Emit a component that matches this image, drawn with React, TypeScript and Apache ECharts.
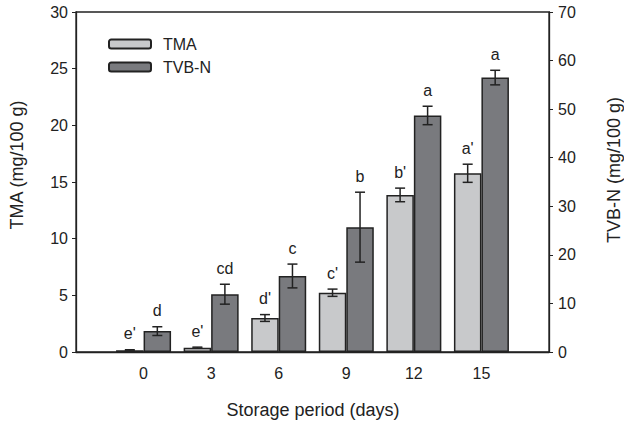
import React, { useEffect, useRef } from "react";
import * as echarts from "echarts";

const days = [0, 3, 6, 9, 12, 15];
const tma = [0.15, 0.38, 3.0, 5.23, 13.86, 15.77];
const tmaErr = [0.05, 0.05, 0.3, 0.32, 0.6, 0.8];
const tvbn = [4.3, 11.9, 15.65, 25.7, 48.7, 56.5];
const tvbnErr = [0.9, 2.05, 2.45, 7.2, 1.9, 1.5];
const tmaLetters = ["e'", "e'", "d'", "c'", "b'", "a'"];
const tvbnLetters = ["d", "cd", "c", "b", "a", "a"];
const leftTicks = [0, 5, 10, 15, 20, 25, 30];
const rightTicks = [0, 10, 20, 30, 40, 50, 60, 70];

const FONT = "'Liberation Sans', Arial, sans-serif";
const INK = "#222";
const BAR_W = 27.5;

function errSeries(name: string, vals: number[], errs: number[], letters: string[], yIdx: number, side: number) {
  return {
    type: "custom",
    name: name + "-err",
    xAxisIndex: 0,
    yAxisIndex: yIdx,
    silent: true,
    z: 5,
    data: days.map((d, i) => [d, vals[i], errs[i], i]),
    renderItem: (params: any, api: any) => {
      const x = api.value(0);
      const y = api.value(1);
      const e = api.value(2);
      const i = api.value(3);
      const top = api.coord([x, y + e]);
      const bot = api.coord([x, y - e]);
      const cx = top[0] + side * (BAR_W / 2);
      const cap = 5;
      const ls = { stroke: INK, lineWidth: 1.5 };
      return {
        type: "group",
        children: [
          { type: "line", shape: { x1: cx, y1: top[1], x2: cx, y2: bot[1] }, style: ls },
          { type: "line", shape: { x1: cx - cap, y1: top[1], x2: cx + cap, y2: top[1] }, style: ls },
          { type: "line", shape: { x1: cx - cap, y1: bot[1], x2: cx + cap, y2: bot[1] }, style: ls },
          {
            type: "text",
            style: {
              text: letters[i],
              x: cx,
              y: top[1] - 8,
              align: "center",
              verticalAlign: "bottom",
              fontSize: 16,
              fontFamily: FONT,
              fill: INK,
            },
          },
        ],
      };
    },
  };
}

export default function App() {
  const ref = useRef<HTMLDivElement>(null);
  useEffect(() => {
    if (!ref.current) return;
    const chart = echarts.init(ref.current, null, { renderer: "svg" });
    const option: any = {
      animation: false,
      backgroundColor: "#fff",
      textStyle: { fontFamily: FONT, color: INK },
      grid: { left: 76, right: 75, top: 12, bottom: 73, show: true, borderColor: INK, borderWidth: 1.3, backgroundColor: "transparent" },
      legend: {
        orient: "vertical",
        left: 103,
        top: 31,
        itemWidth: 42,
        itemHeight: 9,
        itemGap: 7,
        data: ["TMA", "TVB-N"],
        textStyle: { fontSize: 16, fontFamily: FONT, color: INK, padding: [0, 0, 0, 7] },
      },
      xAxis: {
        type: "value",
        min: -3,
        max: 18,
        interval: 3,
        axisLine: { show: true, onZero: false, lineStyle: { color: INK, width: 1.3 } },
        axisTick: { show: false },
        splitLine: { show: false },
        axisLabel: {
          margin: 13,
          fontSize: 16,
          fontFamily: FONT,
          color: INK,
          formatter: (v: number) => (days.indexOf(v) >= 0 ? String(v) : ""),
        },
      },
      yAxis: [
        {
          type: "value",
          min: leftTicks[0],
          max: leftTicks[leftTicks.length - 1],
          interval: 5,
          position: "left",
          axisLine: { show: true, onZero: false, lineStyle: { color: INK, width: 1.3 } },
          axisTick: { show: true, inside: false, length: 4, lineStyle: { color: INK } },
          splitLine: { show: false },
          axisLabel: { margin: 8, fontSize: 16, fontFamily: FONT, color: INK },
        },
        {
          type: "value",
          min: rightTicks[0],
          max: rightTicks[rightTicks.length - 1],
          interval: 10,
          position: "right",
          axisLine: { show: true, onZero: false, lineStyle: { color: INK, width: 1.3 } },
          axisTick: { show: true, inside: false, length: 4, lineStyle: { color: INK } },
          splitLine: { show: false },
          axisLabel: { margin: 9, fontSize: 16, fontFamily: FONT, color: INK },
        },
      ],
      series: [
        {
          type: "bar",
          name: "TMA",
          yAxisIndex: 0,
          barWidth: BAR_W,
          barGap: "0%",
          data: days.map((d, i) => [d, tma[i]]),
          itemStyle: { color: "#c8c9cb", borderColor: INK, borderWidth: 1.5 },
        },
        {
          type: "bar",
          name: "TVB-N",
          yAxisIndex: 1,
          barWidth: BAR_W,
          barGap: "0%",
          data: days.map((d, i) => [d, tvbn[i]]),
          itemStyle: { color: "#797a7e", borderColor: INK, borderWidth: 1.5 },
        },
        errSeries("TMA", tma, tmaErr, tmaLetters, 0, -1),
        errSeries("TVB-N", tvbn, tvbnErr, tvbnLetters, 1, 1),
      ],
      graphic: [
        {
          type: "text",
          x: 17,
          y: 165,
          rotation: Math.PI / 2,
          style: { text: "TMA (mg/100 g)", align: "center", verticalAlign: "middle", fontSize: 18, fontFamily: FONT, fill: INK },
        },
        {
          type: "text",
          x: 614,
          y: 170,
          rotation: Math.PI / 2,
          style: { text: "TVB-N (mg/100 g)", align: "center", verticalAlign: "middle", fontSize: 18, fontFamily: FONT, fill: INK },
        },
        {
          type: "text",
          x: 313,
          y: 410,
          style: { text: "Storage period (days)", align: "center", verticalAlign: "middle", fontSize: 18, fontFamily: FONT, fill: INK },
        },
      ],
    };
    chart.setOption(option);
    return () => chart.dispose();
  }, []);
  return <div ref={ref} style={{ width: 624, height: 425, position: "absolute", left: 0, top: 0 }} />;
}
